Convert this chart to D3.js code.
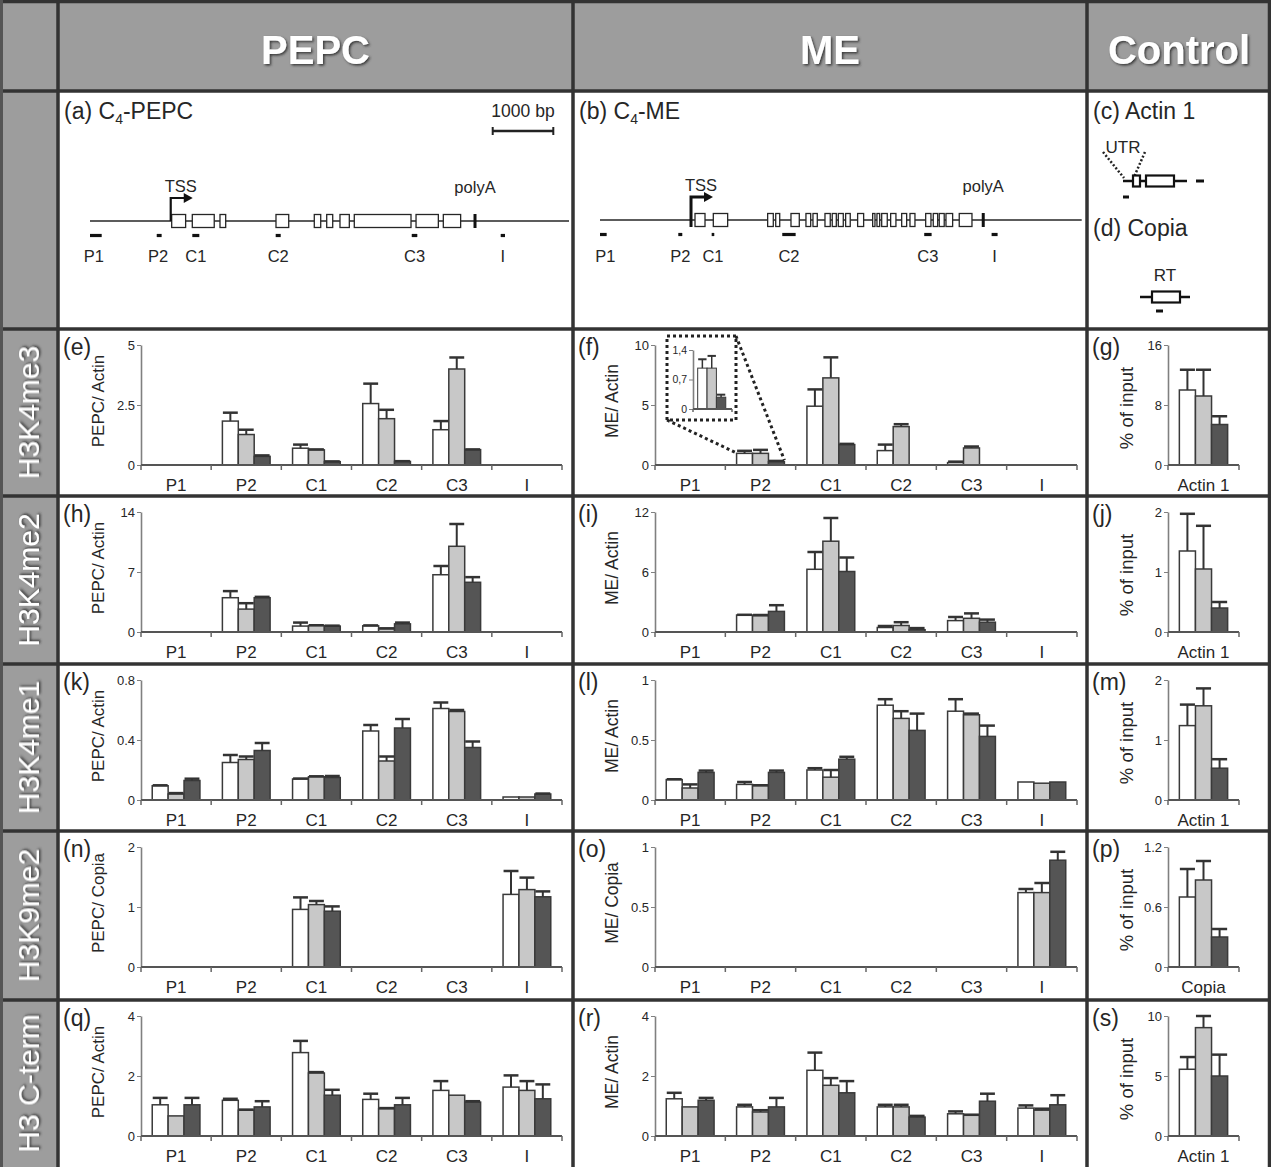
<!DOCTYPE html>
<html lang="en">
<head>
<meta charset="UTF-8">
<title>Histone marks on C4-PEPC and C4-ME</title>
<script src="https://d3js.org/d3.v7.min.js"></script>
<style>
  body { margin: 0; background: #fff; }
  svg { display: block; font-family: "Liberation Sans", Arial, sans-serif; }
</style>
</head>
<body>
<script>
    var W = 1271, H = 1167;

    // ---- data ----
    var categories = ["P1", "P2", "C1", "C2", "C3", "I"];
    var rowNames = ["H3K4me3", "H3K4me2", "H3K4me1", "H3K9me2", "H3 C-term"];
    var colNames = ["PEPC", "ME", "Control"];

    // each entry = [white, grey, dark] per category
    var pepcK4me3 = [[0,0,0],[1.83,1.27,0.36],[0.70,0.63,0.14],[2.56,1.93,0.15],[1.47,4.00,0.64],[0,0,0]];
    var pepcK4me3Err = [[0,0,0],[0.35,0.20,0.04],[0.15,0.02,0.01],[0.83,0.37,0.01],[0.36,0.48,0.01],[0,0,0]];
    var meK4me3 = [[0,0,0],[0.97,0.97,0.28],[4.9,7.26,1.7],[1.2,3.2,0],[0.2,1.42,0],[0,0,0]];
    var meK4me3Err = [[0,0,0],[0.21,0.29,0.06],[1.4,1.71,0.06],[0.5,0.2,0],[0.08,0.12,0],[0,0,0]];
    var ctrlK4me3 = [10.0, 9.2, 5.4];
    var ctrlK4me3Err = [2.7, 3.5, 1.1];

    var pepcK4me2 = [[0,0,0],[4.0,2.67,4.0],[0.69,0.76,0.69],[0.72,0.38,0.95],[6.68,10.0,5.8],[0,0,0]];
    var pepcK4me2Err = [[0,0,0],[0.77,0.69,0.1],[0.41,0.03,0.05],[0.05,0.05,0.15],[1.02,2.6,0.6],[0,0,0]];
    var meK4me2 = [[0,0,0],[1.7,1.63,2.06],[6.27,9.08,6.05],[0.45,0.65,0.23],[1.14,1.37,0.98],[0,0,0]];
    var meK4me2Err = [[0,0,0],[0.02,0.07,0.62],[1.73,2.32,1.4],[0.15,0.33,0.16],[0.36,0.49,0.26],[0,0,0]];
    var ctrlK4me2 = [1.35, 1.05, 0.4];
    var ctrlK4me2Err = [0.62, 0.72, 0.1];

    var pepcK4me1 = [[0.095,0.04,0.13],[0.25,0.27,0.33],[0.14,0.155,0.15],[0.46,0.26,0.48],[0.61,0.59,0.35],[0.02,0.02,0.04]];
    var pepcK4me1Err = [[0.003,0.006,0.012],[0.05,0.02,0.05],[0.003,0.003,0.01],[0.04,0.03,0.06],[0.04,0.01,0.04],[0,0,0.003]];
    var meK4me1 = [[0.17,0.1,0.23],[0.13,0.12,0.23],[0.25,0.19,0.34],[0.79,0.68,0.58],[0.74,0.71,0.53],[0.15,0.14,0.15]];
    var meK4me1Err = [[0.003,0.03,0.015],[0.02,0.003,0.015],[0.015,0.06,0.02],[0.05,0.06,0.14],[0.1,0.01,0.09],[0,0,0]];
    var ctrlK4me1 = [1.24, 1.57, 0.53];
    var ctrlK4me1Err = [0.35, 0.29, 0.15];

    var pepcK9me2 = [[0,0,0],[0,0,0],[0.96,1.04,0.93],[0,0,0],[0,0,0],[1.21,1.29,1.17]];
    var pepcK9me2Err = [[0,0,0],[0,0,0],[0.2,0.06,0.08],[0,0,0],[0,0,0],[0.39,0.2,0.09]];
    var meK9me2 = [[0,0,0],[0,0,0],[0,0,0],[0,0,0],[0,0,0],[0.62,0.62,0.89]];
    var meK9me2Err = [[0,0,0],[0,0,0],[0,0,0],[0,0,0],[0,0,0],[0.03,0.08,0.07]];
    var ctrlK9me2 = [0.7, 0.87, 0.3];
    var ctrlK9me2Err = [0.28, 0.19, 0.08];

    var pepcH3 = [[1.04,0.67,1.04],[1.19,0.86,0.97],[2.78,2.1,1.36],[1.22,0.91,1.04],[1.52,1.36,1.13],[1.63,1.52,1.24]];
    var pepcH3Err = [[0.23,0,0.23],[0.05,0.02,0.19],[0.39,0.03,0.18],[0.19,0.02,0.23],[0.31,0,0.03],[0.39,0.31,0.48]];
    var meH3 = [[1.24,0.97,1.19],[0.97,0.8,0.97],[2.19,1.69,1.44],[0.97,0.97,0.63],[0.74,0.69,1.16],[0.93,0.86,1.04]];
    var meH3Err = [[0.2,0,0.08],[0.07,0.06,0.3],[0.59,0.24,0.39],[0.07,0.07,0.04],[0.08,0.02,0.25],[0.09,0.05,0.32]];
    var ctrlH3 = [5.56, 9.03, 5.0];
    var ctrlH3Err = [1.02, 0.97, 1.78];

    // inset of panel (f), P2 only
    var insetVals = [[0.97, 0.97, 0.28]];
    var insetErrs = [[0.21, 0.29, 0.06]];
    var insetTicks = [0, 0.7, 1.4];
    var insetTickLabels = ["0", "0,7", "1,4"];

    var pepcTicks = [[0,2.5,5],[0,7,14],[0,0.4,0.8],[0,1,2],[0,2,4]];
    var meTicks = [[0,5,10],[0,6,12],[0,0.5,1],[0,0.5,1],[0,2,4]];
    var ctrlTicks = [[0,8,16],[0,1,2],[0,1,2],[0,0.6,1.2],[0,5,10]];
    var ctrlLabels = ["Actin 1","Actin 1","Actin 1","Copia","Actin 1"];
    var pepcYLabels = ["PEPC/ Actin","PEPC/ Actin","PEPC/ Actin","PEPC/ Copia","PEPC/ Actin"];
    var meYLabels = ["ME/ Actin","ME/ Actin","ME/ Actin","ME/ Copia","ME/ Actin"];
    var letters = [["(e)","(f)","(g)"],["(h)","(i)","(j)"],["(k)","(l)","(m)"],["(n)","(o)","(p)"],["(q)","(r)","(s)"]];

    // gene models, in bp from start of drawn line
    var pepcLength = 7904;
    var pepcExons = [[1348,1578],[1688,2050],[2145,2239],[3069,3279],[3701,3807],[3906,4005],[4125,4279],[4361,5297],[5380,5748],[5830,6116]];
    var pepcTSS = 1332, pepcPolyA = 6353;
    var pepcPrimers = [[0,193],[1101,1182],[1688,1804],[3064,3147],[5309,5401],[6777,6848]];
    var scaleBarStart = 6645, scaleBarLen = 1000;

    var meLength = 7950;
    var meExons = [[1568,1733],[1870,2107],[2767,2860],[2900,2966],[3152,3289],[3399,3477],[3515,3586],[3713,3800],[3833,3900],[3933,4015],[4054,4130],[4252,4351],[4500,4538],[4571,4616],[4649,4741],[4797,4884],[4979,5061],[5116,5198],[5375,5462],[5500,5573],[5599,5681],[5710,5820],[5929,6139]];
    var meTSS = 1502, mePolyA = 6325;
    var mePrimers = [[0,110],[1292,1358],[1843,1886],[3008,3229],[5351,5473],[6463,6562]];

    // ---- layout ----
    var colX = [0, 58, 573, 1087, 1271];
    var rowY = [0, 91, 329, 496, 664, 831, 1000, 1167];
    var fills = ["#ffffff", "#c8c8c8", "#555555"];
    var ink = "#262626";

    var svg = d3.select("body").append("svg")
        .attr("width", W).attr("height", H);

    var defs = svg.append("defs");
    var f = defs.append("filter").attr("id", "shadow").attr("x", "-10%").attr("y", "-20%").attr("width", "130%").attr("height", "150%");
    f.append("feDropShadow").attr("dx", 1.5).attr("dy", 1.5).attr("stdDeviation", 1.2).attr("flood-color", "#333").attr("flood-opacity", 0.9);

    svg.append("rect").attr("width", W).attr("height", H).attr("fill", "#9d9d9d");

    // white cells
    for (var r = 1; r < rowY.length - 1; r++) {
        for (var c = 1; c < colX.length - 1; c++) {
            svg.append("rect")
                .attr("x", colX[c]).attr("y", rowY[r])
                .attr("width", colX[c + 1] - colX[c]).attr("height", rowY[r + 1] - rowY[r])
                .attr("fill", "#fff");
        }
    }
    // grid lines
    [58, 573, 1087, 1269.5].forEach(function(x) {
        svg.append("line").attr("x1", x).attr("x2", x).attr("y1", 0).attr("y2", H)
            .attr("stroke", "#333").attr("stroke-width", 3.5);
    });
    [1.5, 91, 329, 496, 664, 831, 1000].forEach(function(y) {
        svg.append("line").attr("x1", 0).attr("x2", W).attr("y1", y).attr("y2", y)
            .attr("stroke", "#333").attr("stroke-width", 3.5);
    });
    svg.append("line").attr("x1", 1.5).attr("x2", 1.5).attr("y1", 0).attr("y2", H)
        .attr("stroke", "#555").attr("stroke-width", 3);

    // header
    colNames.forEach(function(name, i) {
        svg.append("text")
            .attr("x", (colX[i + 1] + colX[i + 2]) / 2).attr("y", 64)
            .attr("text-anchor", "middle")
            .attr("font-size", 40).attr("font-weight", "bold")
            .attr("fill", "#fff").attr("filter", "url(#shadow)")
            .text(name);
    });
    rowNames.forEach(function(name, i) {
        var cy = (rowY[i + 2] + rowY[i + 3]) / 2;
        svg.append("text")
            .attr("transform", "translate(39," + cy + ") rotate(-90)")
            .attr("text-anchor", "middle")
            .attr("font-size", 30)
            .attr("fill", "#fff").attr("filter", "url(#shadow)")
            .text(name);
    });

    // ---- bar charts ----
    function drawChart(o) {
        var g = svg.append("g");
        var x = d3.scaleBand().domain(o.cats).range([o.axisX, o.endX]);
        var xi = d3.scaleBand().domain([0, 1, 2]).range([x.bandwidth() * o.inner[0], x.bandwidth() * o.inner[1]]);
        var y = d3.scaleLinear().domain([0, o.ticks[o.ticks.length - 1]]).range([o.zero, o.top]);

        var pts = [];
        o.cats.forEach(function(cName, i) {
            o.vals[i].forEach(function(v, j) {
                pts.push({c: cName, j: j, v: v, e: o.errs[i][j]});
            });
        });
        pts = pts.filter(function(d) { return d.v > 0; });

        g.selectAll("rect.bar").data(pts).enter().append("rect")
            .attr("x", function(d) { return x(d.c) + xi(d.j); })
            .attr("y", function(d) { return y(d.v); })
            .attr("width", xi.bandwidth())
            .attr("height", function(d) { return o.zero - y(d.v); })
            .attr("fill", function(d) { return fills[d.j]; })
            .attr("stroke", "#3a3a3a").attr("stroke-width", o.sw);

        var eb = pts.filter(function(d) { return d.e > 0; });
        g.selectAll("line.err").data(eb).enter().append("line")
            .attr("x1", function(d) { return x(d.c) + xi(d.j) + xi.bandwidth() / 2; })
            .attr("x2", function(d) { return x(d.c) + xi(d.j) + xi.bandwidth() / 2; })
            .attr("y1", function(d) { return y(d.v); })
            .attr("y2", function(d) { return y(d.v + d.e); })
            .attr("stroke", "#333").attr("stroke-width", o.sw + 0.5);
        g.selectAll("line.cap").data(eb).enter().append("line")
            .attr("x1", function(d) { return x(d.c) + xi(d.j) + 0.5; })
            .attr("x2", function(d) { return x(d.c) + xi(d.j) + xi.bandwidth() - 0.5; })
            .attr("y1", function(d) { return y(d.v + d.e); })
            .attr("y2", function(d) { return y(d.v + d.e); })
            .attr("stroke", "#333").attr("stroke-width", o.sw + 1);

        // y axis
        var ya = g.append("g").attr("transform", "translate(" + o.axisX + ",0)")
            .call(d3.axisLeft(y).tickValues(o.ticks).tickSize(4).tickSizeOuter(0)
                .tickFormat(function(d, i) { return o.tickLabels ? o.tickLabels[i] : String(d); }));
        ya.select(".domain").attr("stroke", "#808080").attr("stroke-width", 1.6);
        ya.selectAll(".tick line").attr("stroke", "#808080");
        ya.selectAll(".tick text").attr("font-size", o.fs).attr("fill", ink)
            .attr("font-family", "Liberation Sans, Arial, sans-serif").attr("x", -6);

        // x axis: line, boundary ticks, labels
        g.append("line").attr("x1", o.axisX).attr("x2", o.endX).attr("y1", o.zero).attr("y2", o.zero)
            .attr("stroke", "#555").attr("stroke-width", 2);
        var bounds = o.cats.map(function(c) { return x(c); }).concat([o.endX]);
        g.selectAll("line.xt").data(bounds).enter().append("line")
            .attr("x1", function(d) { return d; }).attr("x2", function(d) { return d; })
            .attr("y1", o.zero).attr("y2", o.zero + o.tick)
            .attr("stroke", "#666").attr("stroke-width", 1.5);
        if (o.showX) {
            g.selectAll("text.xl").data(o.cats).enter().append("text")
                .attr("x", function(d) { return x(d) + x.bandwidth() / 2; })
                .attr("y", o.zero + 26)
                .attr("text-anchor", "middle").attr("font-size", 17).attr("fill", ink)
                .text(function(d) { return d; });
        }
        if (o.ylabel) {
            g.append("text")
                .attr("transform", "translate(" + o.ylabelX + "," + ((o.top + o.zero) / 2 + (o.yshift || -4)) + ") rotate(-90)")
                .attr("text-anchor", "middle").attr("dy", "0.35em")
                .attr("font-size", o.yfs || 17).attr("fill", ink)
                .text(o.ylabel);
        }
        if (o.letter) {
            g.append("text").attr("x", o.letterX).attr("y", o.letterY)
                .attr("font-size", 23).attr("fill", ink).text(o.letter);
        }
    }

    var chartRows = [
        [pepcK4me3, pepcK4me3Err, meK4me3, meK4me3Err, ctrlK4me3, ctrlK4me3Err],
        [pepcK4me2, pepcK4me2Err, meK4me2, meK4me2Err, ctrlK4me2, ctrlK4me2Err],
        [pepcK4me1, pepcK4me1Err, meK4me1, meK4me1Err, ctrlK4me1, ctrlK4me1Err],
        [pepcK9me2, pepcK9me2Err, meK9me2, meK9me2Err, ctrlK9me2, ctrlK9me2Err],
        [pepcH3, pepcH3Err, meH3, meH3Err, ctrlH3, ctrlH3Err]
    ];

    chartRows.forEach(function(d, i) {
        var rt = rowY[i + 2];
        var top = rt + 16, zero = rt + 136, ly = rt + 26;
        drawChart({cats: categories, vals: d[0], errs: d[1], ticks: pepcTicks[i],
            axisX: 141, endX: 562, top: top, zero: zero, inner: [0.16, 0.84], sw: 1.5, fs: 13, tick: 5, showX: true,
            ylabel: pepcYLabels[i], ylabelX: 98, letter: letters[i][0], letterX: 63, letterY: ly});
        drawChart({cats: categories, vals: d[2], errs: d[3], ticks: meTicks[i],
            axisX: 655, endX: 1077, top: top, zero: zero, inner: [0.16, 0.84], sw: 1.5, fs: 13, tick: 5, showX: true,
            ylabel: meYLabels[i], ylabelX: 612, yfs: 17.5, letter: letters[i][1], letterX: 578, letterY: ly});
        drawChart({cats: [ctrlLabels[i]], vals: [d[4]], errs: [d[5]], ticks: ctrlTicks[i],
            axisX: 1168, endX: 1239, top: top, zero: zero, inner: [0.16, 0.84], sw: 1.5, fs: 13, tick: 5, showX: true,
            ylabel: "% of input", ylabelX: 1127, yfs: 18.5, yshift: 3, letter: letters[i][2], letterX: 1092, letterY: ly});
    });

    // inset in (f)
    var insetBox = {x0: 667, y0: 336, x1: 736, y1: 420};
    svg.append("rect").attr("x", insetBox.x0).attr("y", insetBox.y0)
        .attr("width", insetBox.x1 - insetBox.x0).attr("height", insetBox.y1 - insetBox.y0)
        .attr("fill", "#fff").attr("stroke", "#222").attr("stroke-width", 3).attr("stroke-dasharray", "3,3");
    drawChart({cats: ["P2"], vals: insetVals, errs: insetErrs, ticks: insetTicks, tickLabels: insetTickLabels,
        axisX: 693, endX: 732, top: 350, zero: 409, inner: [0.12, 0.84], sw: 1, fs: 10.5, tick: 3, showX: false});
    // zoom lines from inset box to the P2 group of (f)
    var fx = d3.scaleBand().domain(categories).range([655, 1077]);
    var fy = d3.scaleLinear().domain([0, 10]).range([465, 345]);
    var p2L = fx("P2") + fx.bandwidth() * 0.16, p2R = fx("P2") + fx.bandwidth() * 0.84;
    svg.append("line").attr("x1", insetBox.x0).attr("y1", insetBox.y1).attr("x2", p2L).attr("y2", fy(1.0))
        .attr("stroke", "#222").attr("stroke-width", 3).attr("stroke-dasharray", "3,3");
    svg.append("line").attr("x1", insetBox.x1).attr("y1", insetBox.y0).attr("x2", p2R).attr("y2", fy(0.4))
        .attr("stroke", "#222").attr("stroke-width", 3).attr("stroke-dasharray", "3,3");

    // ---- gene diagrams ----
    function drawGene(o) {
        var g = svg.append("g");
        var x = d3.scaleLinear().domain([0, o.length]).range(o.range);
        g.append("line").attr("x1", x(0)).attr("x2", x(o.length)).attr("y1", o.lineY).attr("y2", o.lineY)
            .attr("stroke", ink).attr("stroke-width", 1.5);
        g.selectAll("rect.ex").data(o.exons).enter().append("rect")
            .attr("x", function(d) { return x(d[0]); })
            .attr("y", o.lineY - 6.5)
            .attr("width", function(d) { return x(d[1]) - x(d[0]); })
            .attr("height", 13)
            .attr("fill", "#fff").attr("stroke", ink).attr("stroke-width", 1.3);
        // TSS arrow
        var tx = x(o.tss);
        g.append("path")
            .attr("d", "M" + tx + "," + (o.lineY + o.tssDown) + "V" + (o.lineY - 23) + "H" + (tx + 14))
            .attr("fill", "none").attr("stroke", "#111").attr("stroke-width", o.tssW);
        g.append("path")
            .attr("d", "M" + (tx + 13) + "," + (o.lineY - 28) + "L" + (tx + 22) + "," + (o.lineY - 23) + "L" + (tx + 13) + "," + (o.lineY - 18) + "Z")
            .attr("fill", "#111");
        g.append("text").attr("x", tx + 10).attr("y", o.lineY - 29)
            .attr("text-anchor", "middle").attr("font-size", 16.5).attr("fill", ink).text("TSS");
        // polyA
        var px = x(o.polyA);
        g.append("line").attr("x1", px).attr("x2", px).attr("y1", o.lineY - 7).attr("y2", o.lineY + 7)
            .attr("stroke", "#111").attr("stroke-width", 3);
        g.append("text").attr("x", px).attr("y", o.lineY - 28)
            .attr("text-anchor", "middle").attr("font-size", 16.5).attr("fill", ink).text("polyA");
        // primers
        g.selectAll("line.pr").data(o.primers).enter().append("line")
            .attr("x1", function(d) { return x(d[0]); }).attr("x2", function(d) { return x(d[1]); })
            .attr("y1", o.lineY + 14.5).attr("y2", o.lineY + 14.5)
            .attr("stroke", "#111").attr("stroke-width", 3.2);
        g.selectAll("text.pl").data(o.primers).enter().append("text")
            .attr("x", function(d, i) { return x((d[0] + d[1]) / 2) + o.labelShift[i]; })
            .attr("y", 262)
            .attr("text-anchor", "middle").attr("font-size", 16.5).attr("fill", ink)
            .text(function(d, i) { return categories[i]; });
        return x;
    }

    var pepcX = drawGene({length: pepcLength, range: [90, 569], lineY: 221, exons: pepcExons,
        tss: pepcTSS, polyA: pepcPolyA, primers: pepcPrimers, tssDown: 0, tssW: 2.2,
        labelShift: [-2, -1, 0, 0, 0, 0]});
    drawGene({length: meLength, range: [600, 1081.7], lineY: 220, exons: meExons,
        tss: meTSS, polyA: mePolyA, primers: mePrimers, tssDown: 7, tssW: 3,
        labelShift: [2, 0, 0, 0, 0, 0]});

    // scale bar
    svg.append("line").attr("x1", pepcX(scaleBarStart)).attr("x2", pepcX(scaleBarStart + scaleBarLen))
        .attr("y1", 131).attr("y2", 131).attr("stroke", "#222").attr("stroke-width", 2.5);
    [scaleBarStart, scaleBarStart + scaleBarLen].forEach(function(b) {
        svg.append("line").attr("x1", pepcX(b)).attr("x2", pepcX(b)).attr("y1", 127).attr("y2", 135)
            .attr("stroke", "#222").attr("stroke-width", 2);
    });
    svg.append("text").attr("x", pepcX(scaleBarStart + scaleBarLen / 2)).attr("y", 117)
        .attr("text-anchor", "middle").attr("font-size", 17.5).attr("fill", ink).text("1000 bp");

    // panel titles with subscript 4
    function title(xp, letter, rest) {
        var t = svg.append("text").attr("x", xp).attr("y", 119).attr("font-size", 23).attr("fill", ink);
        t.append("tspan").text(letter + " C");
        t.append("tspan").attr("font-size", 14).attr("dy", 5).text("4");
        t.append("tspan").attr("dy", -5).text(rest);
    }
    title(64, "(a)", "-PEPC");
    title(579, "(b)", "-ME");

    // (c) actin 1 and (d) copia icons, local px-like scale
    var ax = d3.scaleLinear().domain([0, 100]).range([1103, 1203]);
    svg.append("text").attr("x", 1093).attr("y", 119).attr("font-size", 23).attr("fill", ink).text("(c) Actin 1");
    svg.append("text").attr("x", ax(20)).attr("y", 153).attr("text-anchor", "middle").attr("font-size", 17).attr("fill", ink).text("UTR");
    svg.append("line").attr("x1", ax(0)).attr("y1", 152).attr("x2", ax(21)).attr("y2", 178)
        .attr("stroke", "#222").attr("stroke-width", 2.5).attr("stroke-dasharray", "2,2");
    svg.append("line").attr("x1", ax(42)).attr("y1", 152).attr("x2", ax(31)).attr("y2", 177)
        .attr("stroke", "#222").attr("stroke-width", 2.5).attr("stroke-dasharray", "2,2");
    svg.append("line").attr("x1", ax(20)).attr("x2", ax(84)).attr("y1", 181).attr("y2", 181).attr("stroke", "#111").attr("stroke-width", 2.5);
    svg.append("rect").attr("x", ax(30)).attr("y", 175.5).attr("width", 7).attr("height", 11)
        .attr("fill", "#fff").attr("stroke", "#111").attr("stroke-width", 2.2);
    svg.append("rect").attr("x", ax(43)).attr("y", 175.5).attr("width", 28).attr("height", 11)
        .attr("fill", "#fff").attr("stroke", "#111").attr("stroke-width", 2.2);
    svg.append("line").attr("x1", ax(93)).attr("x2", ax(101)).attr("y1", 181).attr("y2", 181).attr("stroke", "#111").attr("stroke-width", 3);
    svg.append("line").attr("x1", ax(20)).attr("x2", ax(26)).attr("y1", 197).attr("y2", 197).attr("stroke", "#111").attr("stroke-width", 3);

    svg.append("text").attr("x", 1093).attr("y", 236).attr("font-size", 23).attr("fill", ink).text("(d) Copia");
    svg.append("text").attr("x", ax(62)).attr("y", 281).attr("text-anchor", "middle").attr("font-size", 17).attr("fill", ink).text("RT");
    svg.append("line").attr("x1", ax(37)).attr("x2", ax(87)).attr("y1", 297).attr("y2", 297).attr("stroke", "#111").attr("stroke-width", 2.5);
    svg.append("rect").attr("x", ax(49)).attr("y", 291.5).attr("width", 28).attr("height", 11)
        .attr("fill", "#fff").attr("stroke", "#111").attr("stroke-width", 2.2);
    svg.append("line").attr("x1", ax(53)).attr("x2", ax(60)).attr("y1", 311).attr("y2", 311).attr("stroke", "#111").attr("stroke-width", 3);
</script>
</body>
</html>
